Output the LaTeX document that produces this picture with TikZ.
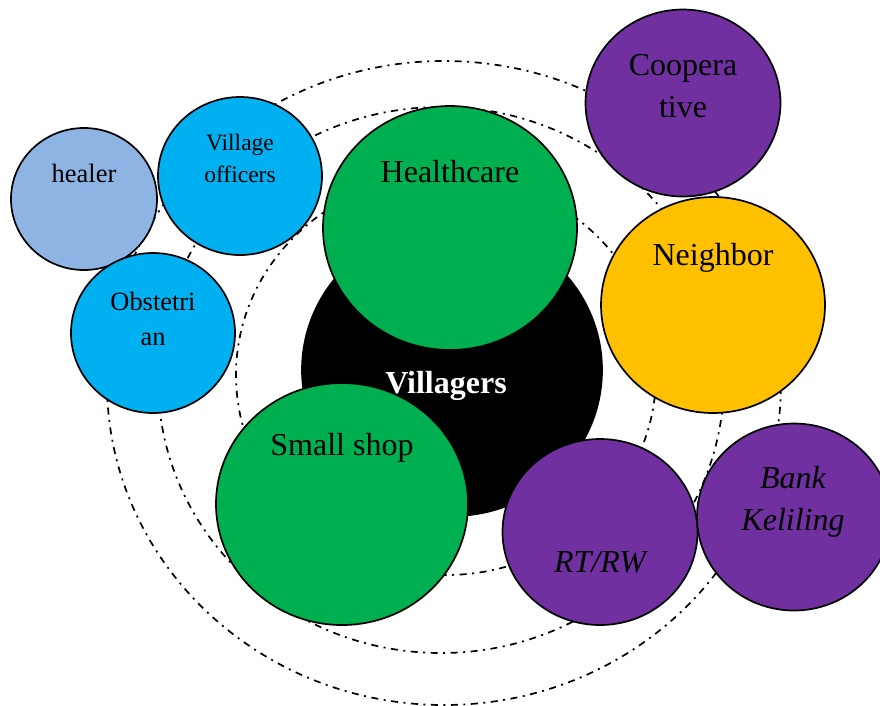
\documentclass[tikz,border=0pt]{standalone}
\usepackage{fontspec}
\setmainfont{Liberation Serif}
\usetikzlibrary{shapes.geometric}
\definecolor{lblue}{HTML}{8EB4E3}
\definecolor{sky}{HTML}{00B0F0}
\definecolor{grn}{HTML}{00B050}
\definecolor{gold}{HTML}{FFC000}
\definecolor{purp}{HTML}{7030A0}
\begin{document}
\begin{tikzpicture}[x=1pt,y=-1pt,
  ring/.style={line width=1.7pt, dash pattern=on 7pt off 5.5pt on 2pt off 5.5pt},
  blob/.style={ellipse, draw=black, line width=1.7pt, inner sep=0pt, outer sep=0pt},
  lab/.style={anchor=base, inner sep=0pt, align=center},
  big/.style={font=\fontsize{32}{42}\selectfont},
]
\useasboundingbox (0,0) rectangle (880,705);
\clip (0,0) rectangle (880,705);
% dash-dot rings
\draw[ring] (446,375) ellipse [x radius=210pt, y radius=200pt];
\draw[ring] (441,380) ellipse [x radius=283pt, y radius=273pt];
\draw[ring] (444,383) ellipse [x radius=337pt, y radius=322pt];
% circles
\node[blob, fill=lblue, minimum width=146pt, minimum height=142pt] (healer) at (84,199) {};
\node[blob, fill=sky, minimum width=164pt, minimum height=158pt] (officers) at (240,176) {};
\node[blob, fill=sky, minimum width=164pt, minimum height=160pt] (obst) at (153,333) {};
\node[blob, fill=black, minimum width=300pt, minimum height=292pt] (villagers) at (452,370) {};
\node[blob, fill=grn, minimum width=254pt, minimum height=244pt] (health) at (450,228) {};
\node[blob, fill=grn, minimum width=252pt, minimum height=242pt] (shop) at (342,504) {};
\node[blob, fill=purp, minimum width=195pt, minimum height=187pt] (coop) at (683,103) {};
\node[blob, fill=gold, minimum width=224pt, minimum height=216pt] (neigh) at (713,305) {};
\node[blob, fill=purp, minimum width=195pt, minimum height=186pt] (rtrw) at (600,532) {};
\node[blob, fill=purp, minimum width=194pt, minimum height=187pt] (bank) at (794,517) {};
% labels (base anchor = baseline of the last line)
\node[lab, font=\fontsize{26.5}{34}\selectfont] (thealer) at (84,182) {healer};
\node[lab, font=\fontsize{23.5}{32}\selectfont] (tofficers) at (240,182) {Village\\officers};
\node[lab, font=\fontsize{26.4}{35}\selectfont] (tobst) at (153,345) {Obstetri\\an};
\node[lab, big] (thealth) at (450,182) {Healthcare};
\node[lab, big, text=white, font=\fontsize{32}{42}\selectfont\bfseries] (tvill) at (446,393) {Villagers};
\node[lab, big] (tshop) at (342,455) {Small shop};
\node[lab, big] (tcoop) at (683,117) {Coopera\\tive};
\node[lab, big] (tneigh) at (713,265) {Neighbor};
\node[lab, big, font=\fontsize{32}{42}\selectfont\itshape] (trtrw) at (600,572) {RT/RW};
\node[lab, big, font=\fontsize{32}{42}\selectfont\itshape] (tbank) at (793,530) {Bank\\Keliling};
\end{tikzpicture}
\end{document}
